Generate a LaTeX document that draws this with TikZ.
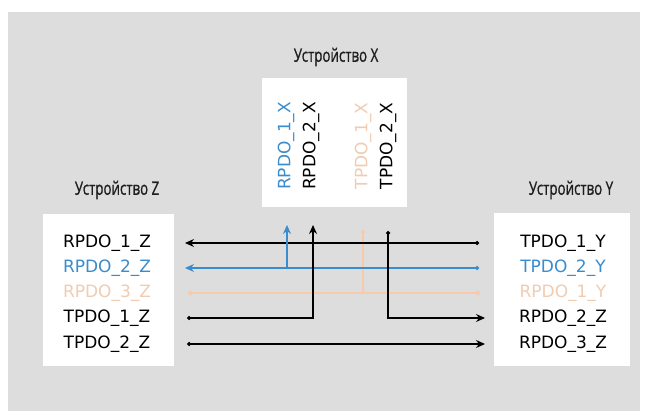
\documentclass[tikz,border=0pt]{standalone}
\usepackage{fontspec}
\usetikzlibrary{arrows.meta}
\newfontfamily\labfont{DejaVu Sans}
\newfontfamily\headfont[FakeStretch=0.72,FakeBold=0.8]{Open Sans}
\definecolor{panel}{RGB}{221,221,221}
\definecolor{sigblue}{RGB}{58,140,205}
\definecolor{sigorange}{RGB}{246,180,132}
\definecolor{paleorange}{RGB}{240,204,178}
\definecolor{headgray}{RGB}{30,30,30}
\begin{document}
\begin{tikzpicture}[x=1pt,y=-1pt,
  devbox/.style={fill=white},
  head/.style={font=\headfont\fontsize{18.5}{22}\selectfont, text=headgray, inner sep=0pt},
  pdo/.style={font=\labfont\fontsize{17}{20}\selectfont, inner sep=0pt},
  vpdo/.style={pdo, rotate=90},
  sig/.style={line width=1.2pt},
  tip/.style={-{Stealth[length=9pt,width=8pt]}},
  dottip/.style={{Circle[length=4pt]}-{Stealth[length=9pt,width=8pt]}},
  blobs/.style={{Circle[length=5pt]}-{Circle[length=5pt]}}
]
\useasboundingbox (0,0) rectangle (658,411);
\fill[white] (0,0) rectangle (658,411);
\fill[panel] (8,12) rectangle (640,411);

% device boxes
\fill[devbox] (262,78) rectangle (407,207);
\fill[devbox] (43,214) rectangle (174,366);
\fill[devbox] (494,213) rectangle (630,366);

% device titles
\node[head] (hx) at (336,57) {Устройство X};
\node[head] (hz) at (117,190) {Устройство Z};
\node[head] (hy) at (571,190) {Устройство Y};

% device Z objects
\node[pdo] (z1) at (107,243) {RPDO\_1\_Z};
\node[pdo, text=sigblue] (z2) at (107,268) {RPDO\_2\_Z};
\node[pdo, text=paleorange] (z3) at (107,293) {RPDO\_3\_Z};
\node[pdo] (z4) at (107,318) {TPDO\_1\_Z};
\node[pdo] (z5) at (107,344) {TPDO\_2\_Z};

% device Y objects
\node[pdo] (y1) at (563,243) {TPDO\_1\_Y};
\node[pdo, text=sigblue] (y2) at (563,268) {TPDO\_2\_Y};
\node[pdo, text=paleorange] (y3) at (563,293) {RPDO\_1\_Y};
\node[pdo] (y4) at (563,318) {RPDO\_2\_Z};
\node[pdo] (y5) at (563,344) {RPDO\_3\_Z};

% device X objects
\node[vpdo, text=sigblue] (x1) at (286,146) {RPDO\_1\_X};
\node[vpdo] (x2) at (311,146) {RPDO\_2\_X};
\node[vpdo, text=paleorange] (x3) at (363,146) {TPDO\_1\_X};
\node[vpdo] (x4) at (388,146) {TPDO\_2\_X};

% line ends
\coordinate (zl1) at (185,243);
\coordinate (zl2) at (185,268);
\coordinate (zl3) at (188,293);
\coordinate (zl4) at (187,318);
\coordinate (zl5) at (187,344);
\coordinate (yl1) at (479,243);
\coordinate (yl2) at (479,268);
\coordinate (yl3) at (480,293);
\coordinate (yl4) at (485,318);
\coordinate (yl5) at (485,344);
\coordinate (xl1) at (287,225);
\coordinate (xl2) at (313,225);
\coordinate (xl3) at (363,230);
\coordinate (xl4) at (388,231);
\coordinate (b1) at (287,268);
\coordinate (b2) at (313,318);
\coordinate (b3) at (363,293);
\coordinate (b4) at (388,318);

% faded orange link
\draw[sig, sigorange!70, blobs] (zl3) -- (yl3);
\draw[sig, sigorange!70, {Circle[length=4pt]}-] (xl3) -- (b3);

% black and blue links
\draw[sig, dottip] (yl1) -- (zl1);
\draw[sig, sigblue, dottip] (yl2) -- (zl2);
\draw[sig, sigblue, tip] (b1) -- (xl1);
\draw[sig, dottip] (zl4) -- (b2) -- (xl2);
\draw[sig, dottip] (xl4) -- (b4) -- (yl4);
\draw[sig, dottip] (zl5) -- (yl5);
\end{tikzpicture}
\end{document}
